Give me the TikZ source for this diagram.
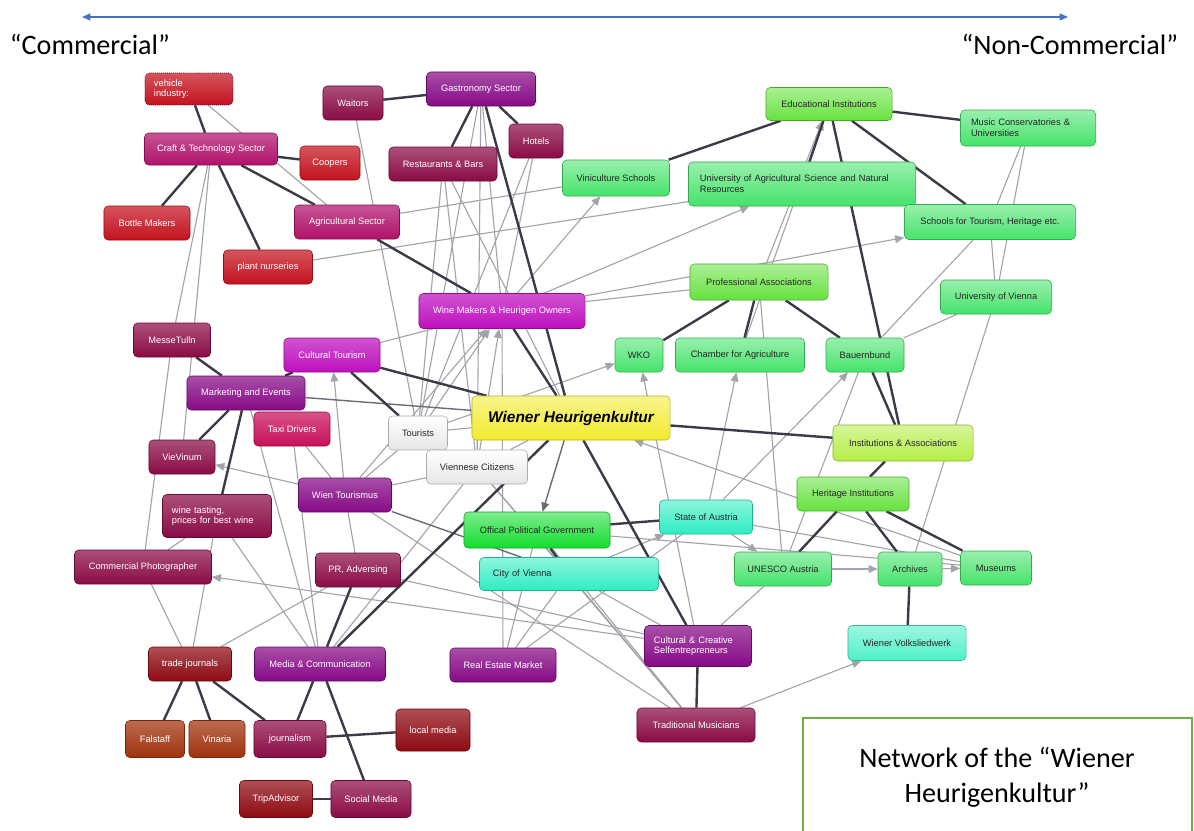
\documentclass[tikz,border=0pt]{standalone}
\usepackage{fontspec}
\setmainfont{Liberation Sans}
\newfontfamily\titlefont{Carlito}
\usetikzlibrary{arrows.meta,backgrounds}

\definecolor{cRed}{HTML}{C4121E}
\definecolor{cCrimson}{HTML}{B0126A}
\definecolor{cTaxi}{HTML}{C8105A}
\definecolor{cMaroon}{HTML}{8A0B45}
\definecolor{cPurple}{HTML}{860A86}
\definecolor{cMagenta}{HTML}{BE10BE}
\definecolor{cDarkRed}{HTML}{8E0A12}
\definecolor{cBrown}{HTML}{A0320C}
\definecolor{cCitizen}{HTML}{E6E6E6}
\definecolor{cYellow}{HTML}{F2EA2E}
\definecolor{cGreen}{HTML}{45E36A}
\definecolor{cLeaf}{HTML}{66E23E}
\definecolor{cGov}{HTML}{12DE2E}
\definecolor{cTeal}{HTML}{2EEDC2}
\definecolor{cTealLight}{HTML}{4DF0C8}
\definecolor{cLime}{HTML}{B5EE45}
\definecolor{tieCol}{HTML}{3A3A48}
\definecolor{linkCol}{HTML}{A3A3AB}
\definecolor{axisBlue}{HTML}{4472C4}
\definecolor{boxGreen}{HTML}{70AD47}

\begin{document}
\begin{tikzpicture}[x=0.025cm, y=-0.025cm,
    actor/.style={rounded corners=3pt, minimum height=0.85cm, inner sep=1pt,
      font=\fontsize{6.6}{7.6}\selectfont, top color=#1!72!white, bottom color=#1,
      draw=#1!75!black, line width=0.4pt},
    darkbox/.style={actor=#1, text=white},
    lightbox/.style={actor=#1, top color=#1!55!white, text=black!85},
    tie/.style={draw=tieCol, line width=1.7pt},
    midtie/.style={draw=tieCol!75, line width=1pt},
    link/.style={draw=linkCol, line width=0.8pt},
    flow/.style={link, -{Triangle[length=6.5pt,width=5.5pt]}},
    title/.style={font=\titlefont\fontsize{20}{25}\selectfont}]
  \useasboundingbox (0,0) rectangle (1194,830);

  % axis and headings
  \coordinate (lend) at (82,17);
  \coordinate (rend) at (1068,17);
  \draw[{Triangle[length=6pt,width=5pt]}-{Triangle[length=6pt,width=5pt]}, draw=axisBlue, line width=0.8pt] (lend) -- (rend);
  \node[title, anchor=west] (commercial) at (5,44) {“Commercial”};
  \node[title, anchor=east] (noncommercial) at (1183,44) {“Non-Commercial”};

  % commercial side
  \node[darkbox=cRed, minimum width=2.2cm, minimum height=0.8cm, text width=1.75cm, align=left,
        draw=blue!30!black, densely dotted] (vehicle) at (189,89) {vehicle\\industry:};
  \node[darkbox=cCrimson, minimum width=3.325cm, minimum height=0.8cm] (craft) at (211,149) {Craft \& Technology Sector};
  \node[darkbox=cRed, minimum width=1.5cm] (coopers) at (330,163) {Coopers};
  \node[darkbox=cRed, minimum width=2.15cm] (bottle) at (147,223) {Bottle Makers};
  \node[darkbox=cCrimson, minimum width=2.625cm] (agri) at (347,222) {Agricultural Sector};
  \node[darkbox=cRed, minimum width=2.225cm] (plant) at (268,267) {plant nurseries};
  \node[darkbox=cMaroon, minimum width=1.5cm] (waitors) at (353,103) {Waitors};
  \node[darkbox=cPurple, minimum width=2.725cm] (gastro) at (481,89) {Gastronomy Sector};
  \node[darkbox=cMaroon, minimum width=2.7cm] (restaurants) at (443,164) {Restaurants \& Bars};
  \node[darkbox=cMaroon, minimum width=1.35cm] (hotels) at (536,141) {Hotels};
  \node[darkbox=cMaroon, minimum width=1.925cm] (messe) at (172,340) {MesseTulln};
  \node[darkbox=cMagenta, minimum width=2.4cm] (culttour) at (332,355) {Cultural Tourism};
  \node[darkbox=cPurple, minimum width=2.95cm] (marketing) at (246,393) {Marketing and Events};
  \node[darkbox=cTaxi, minimum width=1.9cm] (taxi) at (292,429) {Taxi Drivers};
  \node[darkbox=cMaroon, minimum width=1.65cm] (vievinum) at (182,457) {VieVinum};
  \node[darkbox=cMaroon, minimum width=2.725cm, minimum height=1.075cm, text width=2.25cm, align=left] (tasting) at (217,516) {wine tasting,\\prices for best wine};
  \node[darkbox=cPurple, minimum width=2.325cm] (wientour) at (345,495) {Wien Tourismus};
  \node[darkbox=cMaroon, minimum width=3.425cm] (photog) at (143,567) {Commercial Photographer};
  \node[darkbox=cMaroon, minimum width=2.125cm] (pr) at (358,570) {PR, Adversing};
  \node[darkbox=cDarkRed, minimum width=2.075cm] (trade) at (190,664) {trade journals};
  \node[darkbox=cPurple, minimum width=3.275cm] (media) at (320,664) {Media \& Communication};
  \node[darkbox=cBrown, minimum width=1.475cm, minimum height=0.925cm] (falstaff) at (155,739) {Falstaff};
  \node[darkbox=cBrown, minimum width=1.4cm, minimum height=0.925cm] (vinaria) at (217,739) {Vinaria};
  \node[darkbox=cMaroon, minimum width=1.8cm, minimum height=0.925cm] (journalism) at (290,739) {journalism};
  \node[darkbox=cDarkRed, minimum width=1.85cm, minimum height=1.05cm] (localmedia) at (433,730) {local media};
  \node[darkbox=cDarkRed, minimum width=1.825cm, minimum height=0.925cm] (tripadvisor) at (276,799) {TripAdvisor};
  \node[darkbox=cMaroon, minimum width=2cm, minimum height=0.925cm] (social) at (371,799) {Social Media};
  \node[darkbox=cMagenta, minimum width=4.15cm, minimum height=0.875cm] (winemakers) at (502,311) {Wine Makers \& Heurigen Owners};
  \node[darkbox=cPurple, minimum width=2.65cm] (realestate) at (503,665) {Real Estate Market};
  \node[darkbox=cPurple, minimum width=2.675cm, minimum height=1.025cm, text width=2.2cm, align=left] (creative) at (698,646) {Cultural \& Creative\\Selfentrepreneurs};
  \node[darkbox=cMaroon, minimum width=2.95cm] (musicians) at (696,725) {Traditional Musicians};

  % centre
  \node[lightbox=cCitizen, minimum width=1.475cm, top color=white] (tourists) at (418,433) {Tourists};
  \node[lightbox=cCitizen, minimum width=2.525cm, top color=white] (citizens) at (477,467) {Viennese Citizens};
  \node[lightbox=cYellow, minimum width=4.95cm, minimum height=1.1cm,
        font=\fontsize{11}{13}\selectfont\bfseries\itshape, text=black] (wiener) at (571,418) {Wiener Heurigenkultur};
  \node[lightbox=cGov, minimum width=3.65cm, minimum height=0.9cm] (gov) at (537,530) {Offical Political Government};
  \node[lightbox=cTeal, minimum width=4.475cm, minimum height=0.825cm, text width=3.8cm, align=left] (city) at (569,574) {City of Vienna};
  \node[lightbox=cTeal, minimum width=2.325cm] (state) at (706,517) {State of Austria};

  % non-commercial side
  \node[lightbox=cGreen, minimum width=2.425cm] (unesco) at (783,569) {UNESCO Austria};
  \node[lightbox=cGreen, minimum width=1.6cm] (archives) at (910,569) {Archives};
  \node[lightbox=cGreen, minimum width=1.775cm] (museums) at (996,568) {Museums};
  \node[lightbox=cTealLight, minimum width=2.95cm, minimum height=0.875cm] (volkslied) at (907,643) {Wiener Volksliedwerk};
  \node[lightbox=cLeaf, minimum width=2.8cm] (heritage) at (853,494) {Heritage Institutions};
  \node[lightbox=cLime, minimum width=3.5cm, minimum height=0.9cm] (instassoc) at (903,443) {Institutions \& Associations};
  \node[lightbox=cGreen, minimum width=1.2cm] (wko) at (639,355) {WKO};
  \node[lightbox=cGreen, minimum width=3.225cm] (chamber) at (740,355) {Chamber for Agriculture};
  \node[lightbox=cGreen, minimum width=1.95cm] (bauernbund) at (865,355) {Bauernbund};
  \node[lightbox=cLeaf, minimum width=3.45cm, minimum height=0.9cm] (profassoc) at (759,282) {Professional Associations};
  \node[lightbox=cGreen, minimum width=2.775cm] (univienna) at (996,297) {University of Vienna};
  \node[lightbox=cGreen, minimum width=2.675cm, minimum height=0.9cm] (vinischools) at (616,178) {Viniculture Schools};
  \node[lightbox=cGreen, minimum width=5.675cm, minimum height=1.1cm, text width=5.1cm, align=left] (univag) at (802,184) {University of Agricultural Science and Natural\\Resources};
  \node[lightbox=cGreen, minimum width=4.275cm, minimum height=0.875cm] (schools) at (990,222) {Schools for Tourism, Heritage etc.};
  \node[lightbox=cLeaf, minimum width=3.15cm, minimum height=0.825cm] (educational) at (829,104) {Educational Institutions};
  \node[lightbox=cGreen, minimum width=3.375cm, minimum height=0.9cm, text width=2.85cm, align=left] (music) at (1028,128) {Music Conservatories \&\\Universities};

  % caption box
  \draw[draw=boxGreen, line width=1pt] (803,718) rectangle (1192,845);
  \node[title, align=center] (caption) at (997,777) {Network of the “Wiener\\Heurigenkultur”};

  \begin{scope}[on background layer]
    % weak links
    \draw[link] (vehicle) -- (agri);
    \draw[link] (craft) -- (messe);
    \draw[link] (craft) -- (vievinum);
    \draw[link] (messe) -- (photog);
    \draw[link] (gastro) -- (tourists);
    \draw[link] (gastro) -- (citizens);
    \draw[link] (gastro) -- (winemakers);
    \draw[link] (waitors) -- (tourists);
    \draw[link] (restaurants) -- (tourists);
    \draw[link] (restaurants) -- (wiener);
    \draw[link] (restaurants) -- (citizens);
    \draw[link] (hotels) -- (tourists);
    \draw[link] (hotels) -- (winemakers);
    \draw[link] (agri) -- (vinischools);
    \draw[link] (plant) -- (univag);
    \draw[flow] (winemakers) -- (vinischools);
    \draw[flow] (winemakers) -- (univag);
    \draw[flow] (winemakers) -- (schools);
    \draw[link] (winemakers) -- (profassoc);
    \draw[link] (culttour) -- (winemakers);
    \draw[flow] (tourists) -- (winemakers);
    \draw[flow] (citizens) -- (winemakers);
    \draw[flow] (wientour) -- (winemakers);
    \draw[link] (winemakers) -- (realestate);
    \draw[flow] (wientour) -- (culttour);
    \draw[link] (taxi) -- (wientour);
    \draw[link] (taxi) -- (media);
    \draw[link] (marketing) -- (media);
    \draw[flow] (wientour) -- (vievinum);
    \draw[link] (tasting) -- (photog);
    \draw[link] (tasting) -- (media);
    \draw[link] (tasting) -- (trade);
    \draw[link] (photog) -- (trade);
    \draw[link] (wientour) -- (pr);
    \draw[link] (wientour) -- (tourists);
    \draw[link] (wientour) -- (citizens);
    \draw[link] (pr) -- (trade);
    \draw[link] (pr) -- (creative);
    \draw[flow] (creative) -- (photog);
    \draw[link] (citizens) -- (media);
    \draw[link] (realestate) -- (city);
    \draw[link] (realestate) -- (gov);
    \draw[link] (realestate) -- (state);
    \draw[link] (tourists) -- (wiener);
    \draw[flow] (tourists) -- (wko);
    \draw[link] (citizens) -- (wiener);
    \draw[link] (citizens) -- (city);
    \draw[link] (citizens) -- (musicians);
    \draw[link] (wientour) -- (musicians);
    \draw[flow] (creative) -- (wko);
    \draw[flow] (state) -- (chamber);
    \draw[flow] (state) -- (bauernbund);
    \draw[flow] (city) -- (state);
    \draw[flow] (state) -- (unesco);
    \draw[flow] (museums) -- (wiener);
    \draw[link] (state) -- (museums);
    \draw[link] (gov) -- (museums);
    \draw[flow] (chamber) -- (educational);
    \draw[flow] (profassoc) -- (educational);
    \draw[link] (profassoc) -- (unesco);
    \draw[link] (bauernbund) -- (univienna);
    \draw[link] (bauernbund) -- (schools);
    \draw[link] (schools) -- (univienna);
    \draw[link] (music) -- (schools);
    \draw[link] (music) -- (univienna);
    \draw[link] (univienna) -- (archives);
    \draw[flow] (unesco) -- (archives);
    \draw[flow] (archives) -- (museums);
    \draw[link] (unesco) -- (creative);
    \draw[link] (unesco) -- (bauernbund);
    \draw[flow] (musicians) -- (volkslied);
    \draw[link] (city) -- (musicians);
    \draw[link] (gov) -- (musicians);
    \draw[link] (creative) -- (city);
    % middle ties
    \draw[midtie] (marketing) -- (wiener);
    \draw[midtie, -{Triangle[length=6.5pt,width=5.5pt]}] (wiener) -- (gov);
    \draw[midtie] (wientour) -- (city);
    % strong ties
    \draw[tie] (vehicle) -- (craft);
    \draw[tie] (craft) -- (coopers);
    \draw[tie] (craft) -- (bottle);
    \draw[tie] (craft) -- (plant);
    \draw[tie] (craft) -- (agri);
    \draw[tie] (waitors) -- (gastro);
    \draw[tie] (gastro) -- (restaurants);
    \draw[tie] (gastro) -- (hotels);
    \draw[tie] (gastro) -- (wiener);
    \draw[tie] (agri) -- (winemakers);
    \draw[tie] (winemakers) -- (wiener);
    \draw[tie] (messe) -- (marketing);
    \draw[tie] (marketing) -- (culttour);
    \draw[tie] (marketing) -- (vievinum);
    \draw[tie] (marketing) -- (tasting);
    \draw[tie] (culttour) -- (tourists);
    \draw[tie] (culttour) -- (wiener);
    \draw[tie] (wiener) -- (instassoc);
    \draw[tie] (wiener) -- (media);
    \draw[tie] (wiener) -- (creative);
    \draw[tie] (pr) -- (media);
    \draw[tie] (media) -- (journalism);
    \draw[tie] (media) -- (social);
    \draw[tie] (trade) -- (falstaff);
    \draw[tie] (trade) -- (vinaria);
    \draw[tie] (trade) -- (journalism);
    \draw[tie] (journalism) -- (localmedia);
    \draw[tie] (tripadvisor) -- (social);
    \draw[tie] (gov) -- (state);
    \draw[tie] (gov) -- (city);
    \draw[tie] (creative) -- (musicians);
    \draw[tie] (profassoc) -- (wko);
    \draw[tie] (profassoc) -- (chamber);
    \draw[tie] (profassoc) -- (bauernbund);
    \draw[tie] (educational) -- (vinischools);
    \draw[tie] (educational) -- (univag);
    \draw[tie] (educational) -- (schools);
    \draw[tie] (educational) -- (music);
    \draw[tie] (educational) -- (instassoc);
    \draw[tie] (bauernbund) -- (instassoc);
    \draw[tie] (instassoc) -- (heritage);
    \draw[tie] (heritage) -- (unesco);
    \draw[tie] (heritage) -- (archives);
    \draw[tie] (heritage) -- (museums);
    \draw[tie] (archives) -- (volkslied);
  \end{scope}
\end{tikzpicture}
\end{document}
